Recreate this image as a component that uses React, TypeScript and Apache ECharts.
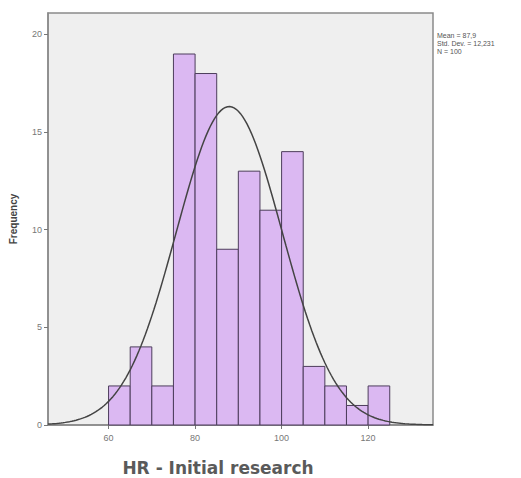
import React, { useEffect, useRef } from "react";
import * as echarts from "echarts";

const binStarts = [60, 65, 70, 75, 80, 85, 90, 95, 100, 105, 110, 115, 120];
const counts = [2, 4, 2, 19, 18, 9, 13, 11, 14, 3, 2, 1, 2];
const binWidth = 5;
const xTicks = [60, 80, 100, 120];
const yTicks = [0, 5, 10, 15, 20];
const mean = 87.9;
const stdDev = 12.231;
const n = 100;
const statsLines = ["Mean = 87,9", "Std. Dev. = 12,231", "N = 100"];
const xTitle = "HR - Initial research";
const yTitle = "Frequency";

export default function App() {
  const ref = useRef<HTMLDivElement>(null);
  useEffect(() => {
    if (!ref.current) return;
    const chart = echarts.init(ref.current, null, { renderer: "svg" });
    const xMin = 46;
    const xMax = 135;
    const barData = binStarts.map((s, i) => [s, s + binWidth, counts[i]]);
    const curve: number[][] = [];
    for (let x = xMin; x <= xMax + 0.001; x += 0.5) {
      const z = (x - mean) / stdDev;
      const y = (n * binWidth) / (stdDev * Math.sqrt(2 * Math.PI)) * Math.exp(-0.5 * z * z);
      curve.push([x, y]);
    }
    chart.setOption({
      animation: false,
      backgroundColor: "#ffffff",
      grid: {
        left: 48,
        top: 13,
        width: 385,
        height: 412,
        show: true,
        backgroundColor: "#efefef",
        borderColor: "#8a8a8a",
        borderWidth: 1.5,
      },
      xAxis: {
        type: "value",
        min: xMin,
        max: xMax,
        axisLine: { show: true, onZero: false, lineStyle: { color: "#8a8a8a", width: 1.5 } },
        axisTick: { show: true, length: 4, customValues: xTicks, lineStyle: { color: "#777" } },
        axisLabel: { customValues: xTicks, color: "#777", fontSize: 9, margin: 8, fontFamily: "Arial, Liberation Sans, sans-serif" },
        splitLine: { show: false },
      },
      yAxis: {
        type: "value",
        min: 0,
        max: 21.1,
        axisLine: { show: true, lineStyle: { color: "#8a8a8a", width: 1.5 } },
        axisTick: { show: true, length: 4, customValues: yTicks, lineStyle: { color: "#777" } },
        axisLabel: { customValues: yTicks, color: "#777", fontSize: 9, margin: 6, fontFamily: "Arial, Liberation Sans, sans-serif" },
        splitLine: { show: false },
        name: yTitle,
        nameLocation: "middle",
        nameGap: 30,
        nameRotate: 90,
        nameTextStyle: { color: "#444", fontSize: 10, fontWeight: "bold", fontFamily: "Arial, Liberation Sans, sans-serif" },
      },
      graphic: [
        {
          type: "text",
          left: 437,
          top: 31,
          style: {
            text: statsLines.join("\n"),
            fontSize: 7,
            lineHeight: 8,
            fill: "#555",
            fontFamily: "Arial, Liberation Sans, sans-serif",
          },
        },
        {
          type: "text",
          x: 218,
          y: 468,
          style: {
            text: xTitle,
            fontSize: 17,
            fontWeight: "bold",
            fill: "#5a5a5a",
            align: "center",
            verticalAlign: "middle",
            fontFamily: "DejaVu Sans, sans-serif",
          },
        },
      ],
      series: [
        {
          type: "custom",
          data: barData,
          encode: { x: [0, 1], y: 2 },
          renderItem: (params: any, api: any) => {
            const p0 = api.coord([api.value(0), api.value(2)]);
            const p1 = api.coord([api.value(1), 0]);
            return {
              type: "rect",
              shape: { x: p0[0], y: p0[1], width: p1[0] - p0[0], height: p1[1] - p0[1] },
              style: { fill: "#dbb8f2", stroke: "#4d3d5c", lineWidth: 1 },
            };
          },
          z: 2,
        },
        {
          type: "line",
          data: curve,
          showSymbol: false,
          symbol: "none",
          smooth: false,
          lineStyle: { color: "#444", width: 1.5 },
          z: 3,
          clip: true,
        },
      ],
    });
    return () => chart.dispose();
  }, []);
  return <div ref={ref} style={{ position: "fixed", left: 0, top: 0, width: 521, height: 478 }} />;
}
